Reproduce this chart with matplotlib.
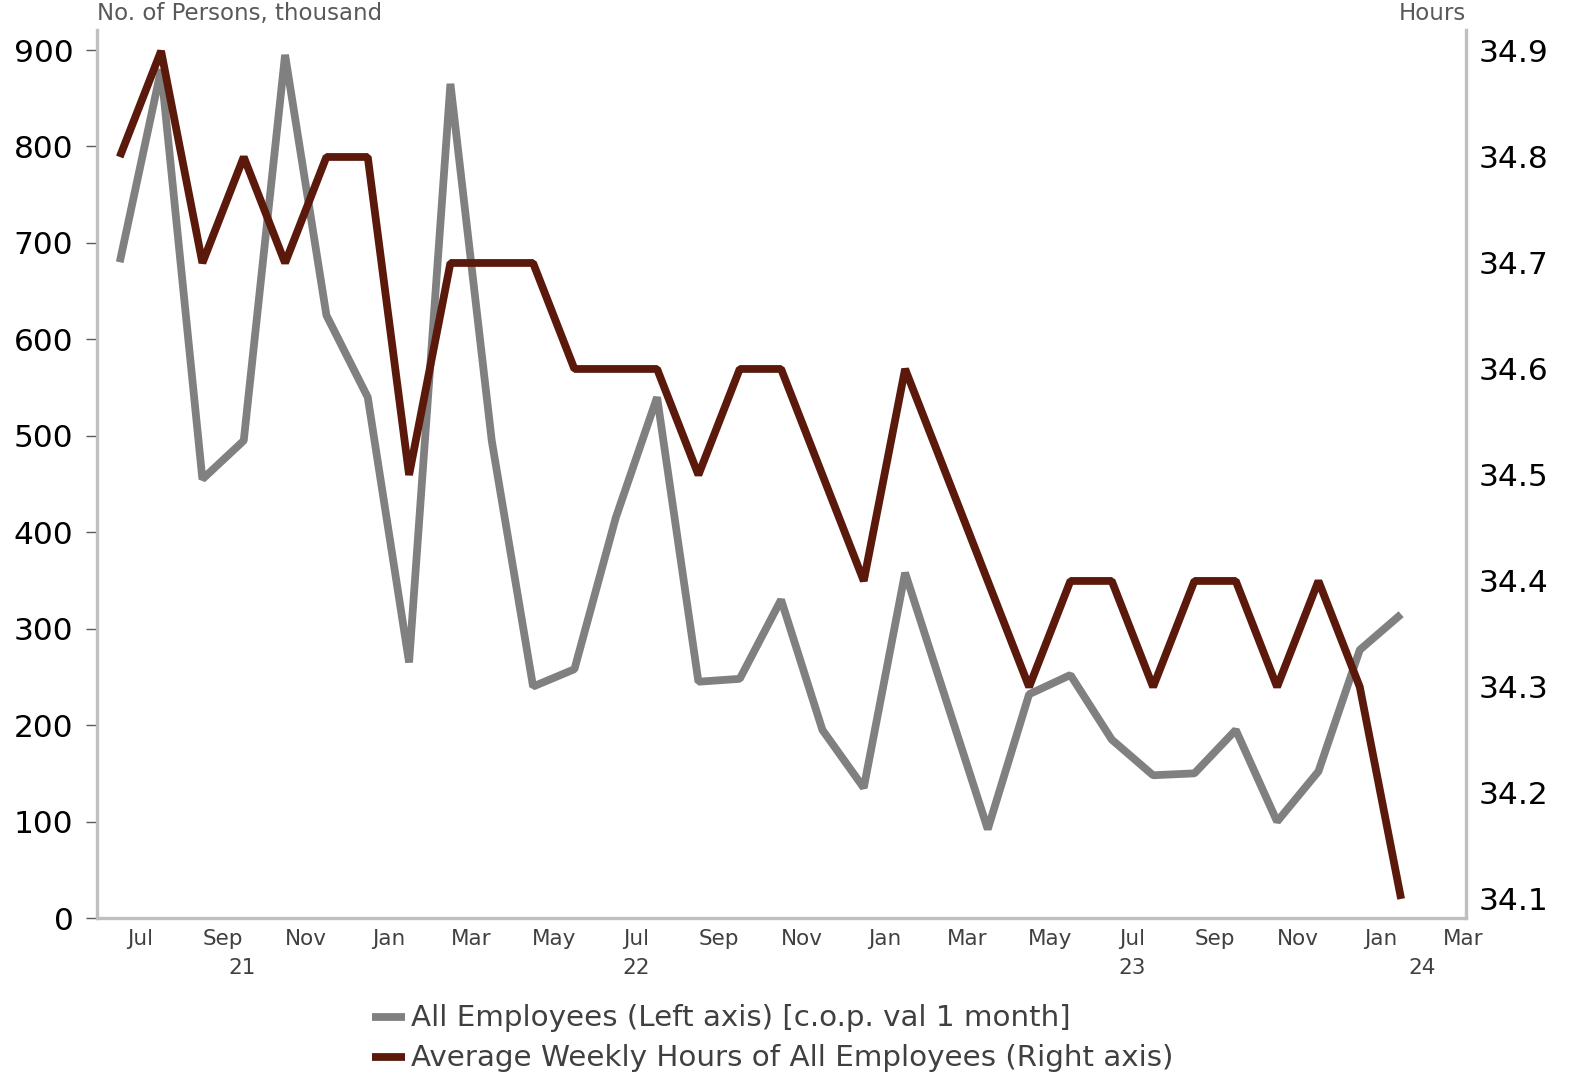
import matplotlib
matplotlib.use("Agg")
import matplotlib.pyplot as plt
import matplotlib.transforms as mtransforms
from matplotlib.lines import Line2D
import numpy as np

# Monthly observations, Jul 2021 .. Feb 2024
months = ["Jul 21", "Aug 21", "Sep 21", "Oct 21", "Nov 21", "Dec 21",
          "Jan 22", "Feb 22", "Mar 22", "Apr 22", "May 22", "Jun 22",
          "Jul 22", "Aug 22", "Sep 22", "Oct 22", "Nov 22", "Dec 22",
          "Jan 23", "Feb 23", "Mar 23", "Apr 23", "May 23", "Jun 23",
          "Jul 23", "Aug 23", "Sep 23", "Oct 23", "Nov 23", "Dec 23",
          "Jan 24", "Feb 24"]
employees_change = [680, 880, 455, 495, 895, 625, 540, 265, 865, 495, 240, 258,
                    415, 540, 245, 248, 330, 195, 135, 358, 225, 92, 232, 252,
                    185, 148, 150, 195, 100, 152, 278, 315]
weekly_hours = [34.8, 34.9, 34.7, 34.8, 34.7, 34.8, 34.8, 34.5, 34.7, 34.7, 34.7, 34.6,
                34.6, 34.6, 34.5, 34.6, 34.6, 34.5, 34.4, 34.6, 34.5, 34.4, 34.3, 34.4,
                34.4, 34.3, 34.4, 34.4, 34.3, 34.4, 34.3, 34.1]

tick_labels = ["Jul", "Sep", "Nov", "Jan", "Mar", "May", "Jul", "Sep", "Nov", "Jan",
               "Mar", "May", "Jul", "Sep", "Nov", "Jan", "Mar"]
year_labels = ["21", "22", "23", "24"]
year_positions = [2.95, 12.5, 24.5, 31.5]

left_ticks = list(range(0, 1000, 100))
right_ticks = [34.1, 34.2, 34.3, 34.4, 34.5, 34.6, 34.7, 34.8, 34.9]

series_names = ["All Employees (Left axis) [c.o.p. val 1 month]",
                "Average Weekly Hours of All Employees (Right axis)"]

GRAY = "#808080"
BROWN = "#5B190C"
SPINE = "#BFBFBF"
W, H = 1569, 1072

x = np.arange(len(months))

fig = plt.figure(figsize=(W / 100, H / 100), dpi=100)
ax = fig.add_axes([97 / W, 1 - 918 / H, (1466 - 97) / W, 888 / H])
ax2 = ax.twinx()

line_kw = dict(lw=5.6, solid_joinstyle="bevel", solid_capstyle="butt")
ax.plot(x, employees_change, color=GRAY, zorder=3, **line_kw)
ax2.plot(x, weekly_hours, color=BROWN, zorder=3, **line_kw)

ax.set_xlim(-0.55, 32.57)
ax.set_ylim(0, 920.8)
ax2.set_ylim(34.082, 34.9198)

ax.set_yticks(left_ticks)
ax.set_yticklabels([str(v) for v in left_ticks], fontsize=22.5, color="black",
                   family="DejaVu Sans")
ax.tick_params(axis="y", direction="out", length=8, width=1, color="#595959", pad=9)

ax2.set_yticks(right_ticks)
ax2.set_yticklabels([f"{v:.1f}" for v in right_ticks], fontsize=22.5, color="black",
                    family="DejaVu Sans")
ax2.tick_params(axis="y", length=0, pad=9)

xt = np.arange(0, 33, 2) + 0.5
ax.set_xticks(xt)
ax.set_xticklabels(tick_labels, fontsize=15.5, color="#404040", family="DejaVu Sans")
ax.tick_params(axis="x", length=0, pad=8)

trans = mtransforms.blended_transform_factory(ax.transData, ax.transAxes)
for pos, lab in zip(year_positions, year_labels):
    ax.text(pos, -0.0563, lab, transform=trans, ha="center", va="center",
            fontsize=15.5, color="#404040", family="DejaVu Sans")

for a in (ax, ax2):
    a.spines["top"].set_visible(False)
    for s in ("left", "right", "bottom"):
        a.spines[s].set_color(SPINE)
        a.spines[s].set_linewidth(2.4)
ax.spines["right"].set_visible(False)
ax2.spines["left"].set_visible(False)
ax2.spines["bottom"].set_visible(False)

fig.text(97 / W, 1 - 25 / H, "No. of Persons, thousand", ha="left", va="bottom",
         fontsize=16.5, color="#595959", family="DejaVu Sans")
fig.text(1466 / W, 1 - 25 / H, "Hours", ha="right", va="bottom",
         fontsize=16.5, color="#595959", family="DejaVu Sans")

# Legend below the plot, drawn in figure pixel coordinates
for name, color, yc in zip(series_names, [GRAY, BROWN], [1017, 1057]):
    fig.add_artist(Line2D([372 / W, 405 / W], [1 - yc / H, 1 - yc / H],
                          transform=fig.transFigure, color=color, lw=5.6,
                          solid_capstyle="butt"))
    fig.text(411 / W, 1 - (yc + 1) / H, name, ha="left", va="center",
             fontsize=21.2, color="#404040", family="DejaVu Sans")

fig.savefig("out.png", dpi=100)
